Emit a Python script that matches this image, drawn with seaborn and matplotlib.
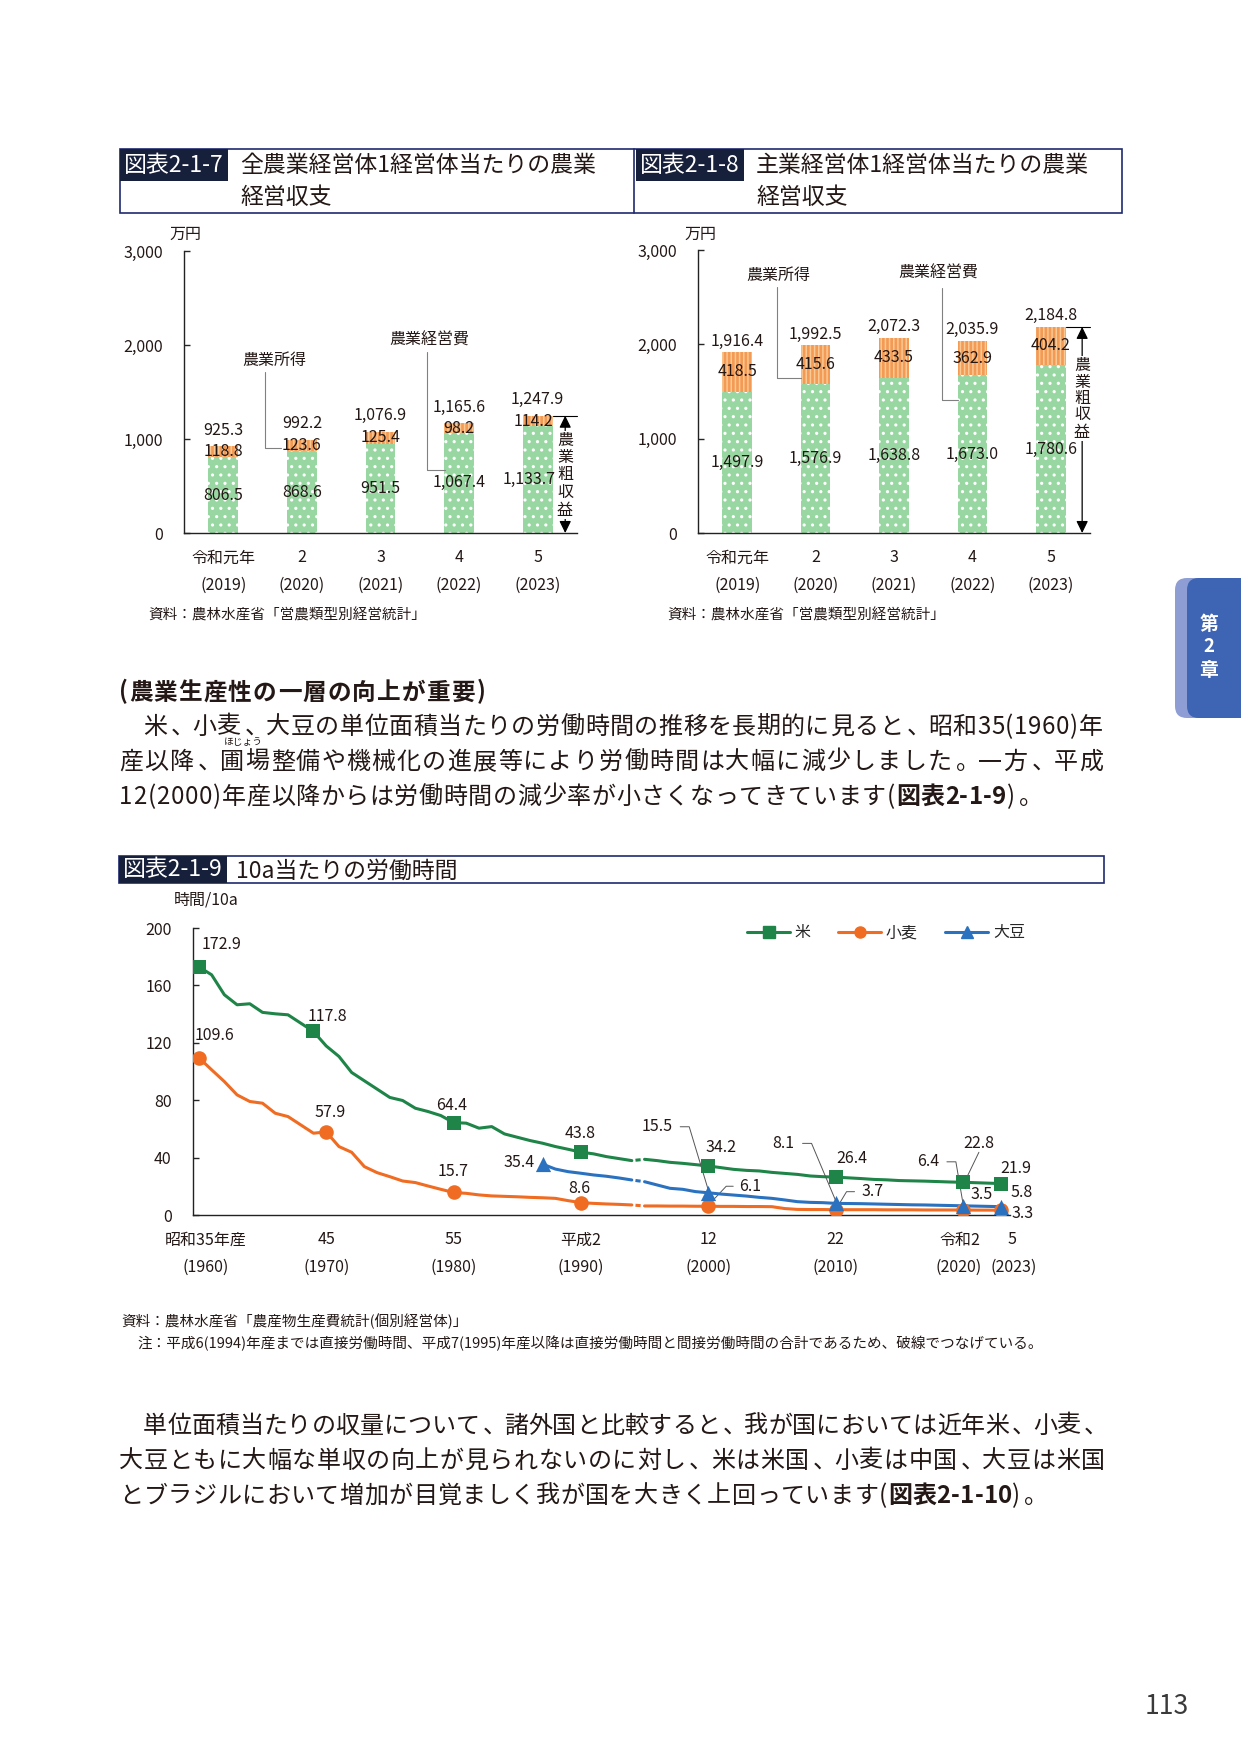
import numpy as np
import pandas as pd
import seaborn as sns
import matplotlib.pyplot as plt
from matplotlib.patches import Rectangle, FancyBboxPatch
from matplotlib.lines import Line2D

sns.set_style('ticks')
plt.rcParams['font.family'] = ['Noto Sans CJK JP', 'DejaVu Sans']
plt.rcParams['hatch.linewidth'] = 1.1

W, H, DPI = 1241, 1754, 100

# ---------- 図表2-1-7 / 2-1-8 (万円) ----------
bar_era = ['令和元年', '2', '3', '4', '5']
bar_ad = ['(2019)', '(2020)', '(2021)', '(2022)', '(2023)']
all_cost = [806.5, 868.6, 951.5, 1067.4, 1133.7]       # 農業経営費
all_income = [118.8, 123.6, 125.4, 98.2, 114.2]        # 農業所得
all_total = [925.3, 992.2, 1076.9, 1165.6, 1247.9]     # 農業粗収益
main_cost = [1497.9, 1576.9, 1638.8, 1673.0, 1780.6]
main_income = [418.5, 415.6, 433.5, 362.9, 404.2]
main_total = [1916.4, 1992.5, 2072.3, 2035.9, 2184.8]

# ---------- 図表2-1-9 (時間/10a) ----------
# up to 1994 direct hours only, from 1995 direct + indirect (joined by a broken line)
rice_yr_a = list(range(1960, 1995))
rice_a = [172.9, 167.4, 153.5, 146.5, 147.2, 141.2, 140.2, 139.5, 133.7, 127.9,
          117.8, 110.5, 99.3, 93.5, 87.7, 81.9, 79.8, 74.4, 72.1, 69.3,
          64.4, 64.0, 60.5, 61.6, 56.5, 54.2, 51.9, 50.0, 47.7, 45.8,
          43.8, 42.6, 40.7, 39.3, 37.9]
rice_yr_b = list(range(1995, 2024))
rice_b = [38.8, 37.9, 36.7, 36.0, 35.1, 34.2, 33.0, 31.8, 31.1, 30.7,
          29.7, 29.0, 28.3, 27.2, 26.7, 26.4, 25.9, 25.4, 24.8, 24.5,
          24.0, 23.8, 23.6, 23.3, 23.0, 22.8, 22.5, 22.2, 21.9]
wheat_yr_a = list(range(1960, 1995))
wheat_a = [109.6, 101.2, 93.0, 83.7, 79.1, 77.9, 70.9, 68.6, 62.8, 57.0,
           57.9, 47.7, 43.7, 33.7, 29.5, 26.7, 23.7, 22.6, 20.2, 17.9,
           15.7, 15.1, 14.0, 13.3, 13.0, 12.7, 12.3, 12.0, 11.6, 10.0,
           8.6, 8.1, 7.7, 7.4, 7.0]
wheat_yr_b = list(range(1995, 2024))
wheat_b = [6.3, 6.3, 6.2, 6.2, 6.1, 6.1, 6.0, 6.0, 5.9, 5.9,
           5.8, 4.5, 3.9, 3.8, 3.8, 3.7, 3.7, 3.7, 3.7, 3.6,
           3.6, 3.6, 3.5, 3.5, 3.5, 3.5, 3.4, 3.4, 3.3]
soy_yr_a = list(range(1987, 1995))
soy_a = [35.4, 32.0, 30.2, 29.1, 27.9, 27.0, 25.8, 24.4]
soy_yr_b = list(range(1995, 2024))
soy_b = [23.2, 20.9, 18.6, 17.9, 16.3, 15.5, 14.6, 13.9, 13.2, 12.3,
         11.6, 10.5, 9.3, 8.8, 8.6, 8.1, 8.0, 7.9, 7.7, 7.5,
         7.3, 7.1, 7.0, 6.8, 6.6, 6.4, 6.2, 6.0, 5.8]

rice_mk = [1960, 1969, 1980, 1990, 2000, 2010, 2020, 2023]
rice_lbl = ['172.9', '117.8', '64.4', '43.8', '34.2', '26.4', '22.8', '21.9']
wheat_mk = [1960, 1970, 1980, 1990, 2000, 2010, 2020, 2023]
wheat_lbl = ['109.6', '57.9', '15.7', '8.6', '6.1', '3.7', '3.5', '3.3']
soy_mk = [1987, 2000, 2010, 2020, 2023]
soy_lbl = ['35.4', '15.5', '8.1', '6.4', '5.8']

line_ticks = [1960, 1970, 1980, 1990, 2000, 2010, 2020, 2023]
line_tick_era = ['昭和35年産', '45', '55', '平成2', '12', '22', '令和2', '5']
line_tick_ad = ['(1960)', '(1970)', '(1980)', '(1990)', '(2000)', '(2010)', '(2020)', '(2023)']

# colours
GREEN = '#98d7a2'
ORANGE = '#f39a55'
STRIPE = '#fbc994'
RICE_C = '#1e8447'
WHEAT_C = '#ef6c22'
SOY_C = '#2a72c0'
NAVY = '#1f2a6e'
LABEL_BG = '#17203a'
TXT = '#231815'
GRAY = '#808080'

fig = plt.figure(figsize=(W / DPI, H / DPI), dpi=DPI)
fig.patch.set_facecolor('white')


def add_ax(x0, y0, x1, y1):
    return fig.add_axes([x0 / W, 1 - y1 / H, (x1 - x0) / W, (y1 - y0) / H])


# page layer in pixel coordinates (y downwards)
page = fig.add_axes([0, 0, 1, 1], zorder=5)
page.set_xlim(0, W)
page.set_ylim(H, 0)
page.axis('off')
page.patch.set_visible(False)


def ptext(x, y, s, size=11.5, **kw):
    kw.setdefault('ha', 'center')
    kw.setdefault('va', 'center')
    kw.setdefault('color', TXT)
    return page.text(x, y, s, fontsize=size, **kw)


def pline(xs, ys, **kw):
    kw.setdefault('color', GRAY)
    kw.setdefault('lw', 0.8)
    page.plot(xs, ys, **kw)


def style_axes(ax):
    sns.despine(ax=ax)
    for s in ('left', 'bottom'):
        ax.spines[s].set_color('#222222')
        ax.spines[s].set_linewidth(1.0)
    ax.set_xlabel('')
    ax.set_ylabel('')


# ---------------- bar panels ----------------
def bar_panel(box, cost, income, total, top_off, arrow_x):
    ax = add_ax(*box)
    n = len(bar_ad)
    sns.barplot(x=bar_ad, y=total, color=ORANGE, width=0.38, saturation=1,
                errorbar=None, ax=ax)
    sns.barplot(x=bar_ad, y=cost, color=GREEN, width=0.38, saturation=1,
                errorbar=None, ax=ax)
    for p in ax.patches[:n]:
        p.set_hatch('||||')
        p.set_edgecolor(STRIPE)
        p.set_linewidth(0)
    for p in ax.patches[n:]:
        p.set_hatch('..')
        p.set_edgecolor('white')
        p.set_linewidth(0)
    ax.set_xlim(-0.5, n - 0.5)
    ax.set_ylim(0, 3000)
    style_axes(ax)
    ax.set_yticks([0, 1000, 2000, 3000])
    ax.set_yticklabels(['0', '1,000', '2,000', '3,000'], fontsize=11.5, color=TXT)
    ax.tick_params(axis='y', direction='in', length=4, width=1, pad=15)
    ax.set_xticks([])
    for i in range(n):
        dx = -9 if (i == n - 1 and arrow_x < 4.38) else 0
        ax.annotate(f'{total[i]:,.1f}', xy=(i, total[i]), xytext=(0, top_off),
                    textcoords='offset pixels', ha='center', va='center',
                    fontsize=11.5, color=TXT)
        ax.annotate(f'{income[i]:,.1f}', xy=(i, cost[i] + income[i] / 2),
                    xytext=(dx / 2, 0), textcoords='offset pixels',
                    ha='center', va='center', fontsize=11.5, color=TXT)
        ax.annotate(f'{cost[i]:,.1f}', xy=(i, cost[i] / 2), xytext=(dx, 0),
                    textcoords='offset pixels', ha='center', va='center',
                    fontsize=11.5, color=TXT)
        for lab, off in ((bar_era[i], 25), (bar_ad[i], 52)):
            ax.annotate(lab, xy=(i, 0), xycoords=('data', 'axes fraction'),
                        xytext=(0, -off), textcoords='offset pixels',
                        ha='center', va='center', fontsize=11.5, color=TXT,
                        annotation_clip=False)
    # 農業粗収益 double arrow
    ax.annotate('', xy=(arrow_x, total[-1]), xytext=(arrow_x, 0),
                arrowprops=dict(arrowstyle='<|-|>,head_length=0.45,head_width=0.22',
                                mutation_scale=16, color='black', lw=0.9,
                                shrinkA=0, shrinkB=0),
                annotation_clip=False)
    ax.plot([n - 1 + 0.2, n - 0.5], [total[-1]] * 2, color='black', lw=0.8,
            clip_on=False)
    return ax


bar_panel((184, 251, 577, 533), all_cost, all_income, all_total, 16, 4.35)
bar_panel((698, 250, 1090, 533), main_cost, main_income, main_total, 11, 4.40)

# vertical 農業粗収益 labels
for ys, x in (((440, 457.5, 475, 492.5, 510), 565), ((365, 382, 398.5, 415, 432), 1082)):
    for ch, y in zip('農業粗収益', ys):
        ptext(x, y, ch, 11.5, bbox=dict(facecolor='white', edgecolor='none', pad=0.6))

# callouts
ptext(274, 360, '農業所得')
pline([265, 265, 281], [372, 448, 448])
ptext(429, 340, '農業経営費')
pline([427, 427, 445], [352, 470, 470])
ptext(778, 275, '農業所得')
pline([777, 777, 801], [287, 378, 378])
ptext(938, 273, '農業経営費')
pline([942, 942, 958], [288, 400, 400])

ptext(185, 234, '万円')
ptext(700, 234, '万円')
ptext(148, 615, '資料：農林水産省「営農類型別経営統計」', 10.5, ha='left')
ptext(667, 615, '資料：農林水産省「営農類型別経営統計」', 10.5, ha='left')

# title boxes for 2-1-7 / 2-1-8
page.add_patch(Rectangle((120, 149), 1002, 64, fill=False, edgecolor=NAVY, lw=1.2))
pline([634, 634], [149, 213], color=NAVY, lw=1.2)
for x0, lab, t1 in ((120, '図表2-1-7', '全農業経営体1経営体当たりの農業'),
                    (636, '図表2-1-8', '主業経営体1経営体当たりの農業')):
    page.add_patch(Rectangle((x0, 149), 108, 32, facecolor=LABEL_BG, edgecolor='none'))
    ptext(x0 + 54, 165, lab, 16.5, color='white')
    ptext(x0 + 120, 166, t1, 16.5, ha='left')
    ptext(x0 + 120, 197, '経営収支', 16.5, ha='left')

# ---------------- line chart ----------------
lax = add_ax(192.5, 928, 1010, 1215)
x_lo, x_hi = 1959.5, 2023.7
series = [
    (rice_yr_a, rice_a, rice_yr_b, rice_b, RICE_C, 's', 95, rice_mk, rice_lbl),
    (wheat_yr_a, wheat_a, wheat_yr_b, wheat_b, WHEAT_C, 'o', 110, wheat_mk, wheat_lbl),
    (soy_yr_a, soy_a, soy_yr_b, soy_b, SOY_C, '^', 120, soy_mk, soy_lbl),
]
label_off = [
    [(23, 22), (14, 15), (-2, 17), (-1, 19), (13, 18), (16, 19), (16, 39), (15, 15)],
    [(16, 22), (4, 19), (0, 21), (-2, 14), (42, 20), (37, 18), (19, 15), (21, -3)],
    [(-24, 2), (-51, 66), (-52, 60), (-35, 44), (21, 14)],
]
leaders = {
    (2, 1): [(-28, 66), (-19, 66), (0, 3)],
    (1, 4): [(25, 20), (18, 20), (2, 3)],
    (2, 2): [(-33, 60), (-24, 60), (0, 3)],
    (1, 5): [(19, 18), (11, 18), (2, 3)],
    (2, 3): [(-16, 44), (-7, 44), (0, 3)],
    (0, 6): [(16, 30), (3, 3)],
}
sx = (1010 - 192.5) / (x_hi - x_lo)
sy = (1215 - 928) / 200.0

for k, (ya, va, yb, vb, c, m, ms, mk, lbl) in enumerate(series):
    sns.lineplot(x=ya, y=va, color=c, lw=2.2, ax=lax)
    sns.lineplot(x=yb, y=vb, color=c, lw=2.2, ax=lax)
    sns.lineplot(x=[ya[-1], yb[0]], y=[va[-1], vb[0]], color=c, lw=2.2,
                 linestyle=(2.9, (1.7, 2.4)), ax=lax)
    lookup = dict(zip(ya + yb, va + vb))
    mv = [lookup[y] for y in mk]
    sns.scatterplot(x=mk, y=mv, marker=m, s=ms, color=c, edgecolor=c,
                    linewidth=0, ax=lax, zorder=4, legend=False)
    for j, (y, v, t) in enumerate(zip(mk, mv, lbl)):
        dx, dy = label_off[k][j]
        lax.annotate(t, xy=(y, v), xytext=(dx, dy), textcoords='offset pixels',
                     ha='center', va='center', fontsize=11.5, color=TXT,
                     annotation_clip=False)
        if (k, j) in leaders:
            pts = leaders[(k, j)]
            lax.plot([y + p[0] / sx for p in pts], [v + p[1] / sy for p in pts],
                     color='#555555', lw=0.7, clip_on=False)

lax.set_xlim(x_lo, x_hi)
lax.set_ylim(0, 200)
style_axes(lax)
lax.set_yticks([0, 40, 80, 120, 160, 200])
lax.set_yticklabels(['0', '40', '80', '120', '160', '200'], fontsize=11.5, color=TXT)
lax.tick_params(axis='y', direction='in', length=4, width=1, pad=15)
lax.set_xticks([])
last = len(line_ticks) - 1
for i, (yr, e, a) in enumerate(zip(line_ticks, line_tick_era, line_tick_ad)):
    dx1 = {0: 7, last - 1: -3, last: 11}.get(i, 0)
    dx2 = {0: 7, last - 1: -4, last: 13}.get(i, 0)
    lax.annotate(e, xy=(yr, 0), xycoords=('data', 'axes fraction'), xytext=(dx1, -25),
                 textcoords='offset pixels', ha='center', va='center', fontsize=11.5,
                 color=TXT, annotation_clip=False)
    lax.annotate(a, xy=(yr, 0), xycoords=('data', 'axes fraction'), xytext=(dx2, -52),
                 textcoords='offset pixels', ha='center', va='center', fontsize=11.5,
                 color=TXT, annotation_clip=False)

handles = [Line2D([0], [0], color=c, lw=2.2, marker=m, markersize=8)
           for c, m in ((RICE_C, 's'), (WHEAT_C, 'o'), (SOY_C, '^'))]
lax.legend(handles, ['米', '小麦', '大豆'], loc='center left',
           bbox_to_anchor=(747 / W, 1 - 933 / H), bbox_transform=fig.transFigure,
           ncol=3, frameon=False, handlelength=2.7, handletextpad=0.3,
           columnspacing=1.7, borderpad=0, borderaxespad=0, fontsize=11.5)

ptext(206, 900, '時間/10a')
page.add_patch(Rectangle((119, 856), 985, 27, fill=False, edgecolor=NAVY, lw=1.2))
page.add_patch(Rectangle((119, 856), 108, 27, facecolor=LABEL_BG, edgecolor='none'))
ptext(173, 870, '図表2-1-9', 16.5, color='white')
ptext(236, 871, '10a当たりの労働時間', 16.5, ha='left')

ptext(121, 1321, '資料：農林水産省「農産物生産費統計(個別経営体)」', 10.5, ha='left')
ptext(137, 1343, '注：平成6(1994)年産までは直接労働時間、平成7(1995)年産以降は直接労働時間と'
      '間接労働時間の合計であるため、破線でつなげている。', 10.5, ha='left')


# ---------------- body text ----------------
def char_em(c):
    if ord(c) > 0x2000:
        return 1.0
    if c in '()':
        return 0.36
    if c in '-':
        return 0.38
    return 0.56


def put_line(runs, x0, x1, y, size=17.3):
    chars = [(c, wt) for s, wt in runs for c in s]
    em = size * DPI / 72
    widths = [char_em(c) * em for c, _ in chars]
    gap = ((x1 - x0) - sum(widths)) / max(len(chars) - 1, 1)
    x = x0
    base = y + 0.36 * em
    for (c, wt), w in zip(chars, widths):
        if c in '、。':
            ptext(x + 0.12 * w, base, c, size, ha='left', va='baseline', fontweight=wt)
        elif c != '　':
            ptext(x + w / 2, base, c, size, va='baseline', fontweight=wt)
        x += w + gap


N, B = 'normal', 'bold'
put_line([('(農業生産性の一層の向上が重要)', B)], 119, 485, 691, 17)
put_line([('　米、小麦、大豆の単位面積当たりの労働時間の推移を長期的に見ると、昭和35(1960)年', N)],
         119, 1103, 725)
put_line([('産以降、圃場整備や機械化の進展等により労働時間は大幅に減少しました。一方、平成', N)],
         119, 1103, 760)
ptext(243, 742, 'ほじょう', 7)
put_line([('12(2000)年産以降からは労働時間の減少率が小さくなってきています(', N),
          ('図表2-1-9', B), (')。', N)], 119, 1040, 795)

put_line([('　単位面積当たりの収量について、諸外国と比較すると、我が国においては近年米、小麦、', N)],
         119, 1105, 1424)
put_line([('大豆ともに大幅な単収の向上が見られないのに対し、米は米国、小麦は中国、大豆は米国', N)],
         119, 1105, 1459)
put_line([('とブラジルにおいて増加が目覚ましく我が国を大きく上回っています(', N),
          ('図表2-1-10', B), (')。', N)], 119, 1045, 1494)

# chapter tab
page.add_patch(FancyBboxPatch((1175, 578), 90, 140, boxstyle='round,pad=0,rounding_size=12',
                              facecolor='#8e9ed4', edgecolor='none'))
page.add_patch(FancyBboxPatch((1187, 578), 80, 140, boxstyle='round,pad=0,rounding_size=12',
                              facecolor='#3e64b4', edgecolor='none'))
for ch, y in zip('第2章', (624, 647, 670)):
    ptext(1209, y, ch, 13.5, color='white', fontweight='bold')

ptext(1167, 1707, '113', 19, color='#3a3a3a')

fig.savefig('out.png', dpi=DPI, facecolor='white')
